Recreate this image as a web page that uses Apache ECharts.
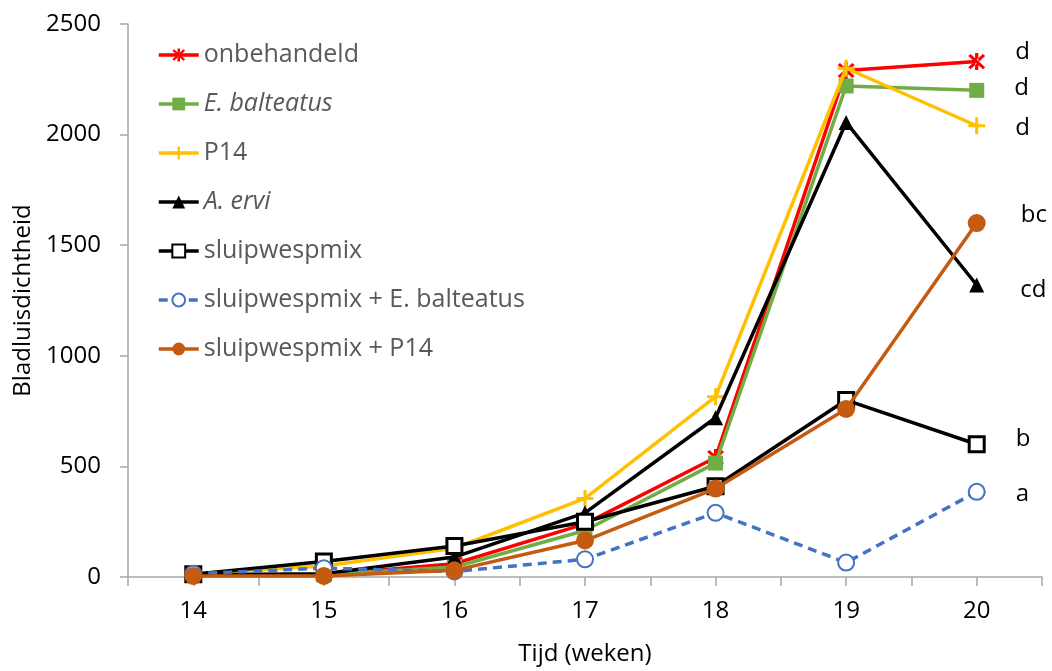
<!DOCTYPE html>
<html>
<head>
<meta charset="utf-8">
<script src="https://cdn.jsdelivr.net/npm/echarts@6/dist/echarts.min.js"></script>
<style>
html,body{margin:0;padding:0;background:#fff;}
#chart{width:1052px;height:671px;}
</style>
</head>
<body>
<div id="chart"></div>
<script>
var weeks = [14, 15, 16, 17, 18, 19, 20];
var seriesNames = ['onbehandeld', 'E. balteatus', 'P14', 'A. ervi', 'sluipwespmix', 'sluipwespmix + E. balteatus', 'sluipwespmix + P14'];
var onbehandeld = [10, 10, 60, 240, 540, 2290, 2330];
var eBalteatus  = [10, 10, 45, 210, 515, 2220, 2200];
var p14         = [15, 50, 130, 355, 815, 2300, 2040];
var aErvi       = [10, 15, 90, 290, 720, 2055, 1320];
var sluipwespmix = [12, 70, 140, 250, 410, 800, 600];
var mixEBalt    = [15, 40, 25, 80, 290, 65, 385];
var mixP14      = [5, 5, 30, 165, 400, 760, 1600];
var letters = ['d', 'd', 'd', 'cd', 'b', 'a', 'bc'];
var yTicks = [0, 500, 1000, 1500, 2000, 2500];

var allValues = [onbehandeld, eBalteatus, p14, aErvi, sluipwespmix, mixEBalt, mixP14];

var asterisk = 'path://M-1.7,-10 L1.7,-10 L1.7,10 L-1.7,10 Z M-8.9,-6.5 L-6.5,-8.9 L8.9,6.5 L6.5,8.9 Z M-8.9,6.5 L-6.5,8.9 L8.9,-6.5 L6.5,-8.9 Z';
var plus = 'path://M-1.6,-9 L1.6,-9 L1.6,-1.6 L9,-1.6 L9,1.6 L1.6,1.6 L1.6,9 L-1.6,9 L-1.6,1.6 L-9,1.6 L-9,-1.6 L-1.6,-1.6 Z';

var styles = [
  {symbol: asterisk, size: 17, item: {color: '#ff0000'}, line: {color: '#ff0000', width: 3.5}, off: [0, -9]},
  {symbol: 'rect', size: 15, item: {color: '#70ad47'}, line: {color: '#70ad47', width: 3.5}, off: [0, -2]},
  {symbol: plus, size: 17, item: {color: '#ffc000'}, line: {color: '#ffc000', width: 3.5}, off: [0, 2]},
  {symbol: 'triangle', size: 15, item: {color: '#000000'}, line: {color: '#000000', width: 3.5}, off: [6, 5]},
  {symbol: 'rect', size: 15, item: {color: '#ffffff', borderColor: '#000000', borderWidth: 3}, line: {color: '#000000', width: 3.5}, off: [0, -5]},
  {symbol: 'emptyCircle', size: 16, item: {color: '#4472c4', borderWidth: 3}, line: {color: '#4472c4', width: 3.5, type: [9, 6]}, off: [0, 2]},
  {symbol: 'circle', size: 18, item: {color: '#c55a11'}, line: {color: '#c55a11', width: 3.5}, off: [5, -8]}
];

var FONT = '"Open Sans", sans-serif';

var series = seriesNames.map(function (name, i) {
  var vals = allValues[i];
  var data = weeks.map(function (w, j) {
    if (j === weeks.length - 1) {
      return {
        value: [w, vals[j]],
        label: {
          show: true,
          position: 'right',
          distance: 30,
          offset: styles[i].off,
          formatter: letters[i],
          color: '#000',
          fontSize: 24,
          fontFamily: FONT
        }
      };
    }
    return [w, vals[j]];
  });
  return {
    name: name,
    type: 'line',
    data: data,
    symbol: styles[i].symbol,
    symbolSize: styles[i].size,
    showAllSymbol: true,
    itemStyle: styles[i].item,
    lineStyle: styles[i].line,
    emphasis: {disabled: true},
    animation: false,
    z: 2 + i
  };
});

var italicNames = {'E. balteatus': true, 'A. ervi': true};

var option = {
  backgroundColor: '#ffffff',
  animation: false,
  grid: {left: 128, right: 10, top: 24, bottom: 93, containLabel: false},
  legend: {
    orient: 'vertical',
    left: 152,
    top: 36,
    itemWidth: 40,
    itemHeight: 16,
    itemGap: 21,
    textStyle: {color: '#595959', fontSize: 25, fontFamily: FONT, lineHeight: 28},
    lineStyle: {width: 3.5},
    data: seriesNames.map(function (n) {
      return italicNames[n] ? {name: n, textStyle: {fontStyle: 'italic'}} : {name: n};
    })
  },
  xAxis: {
    type: 'value',
    min: 13.5,
    max: 20.5,
    interval: 0.5,
    name: 'Tijd (weken)',
    nameLocation: 'middle',
    nameGap: 65,
    nameTextStyle: {color: '#000', fontSize: 24, fontFamily: FONT},
    axisLine: {show: true, lineStyle: {color: '#a6a6a6', width: 1.5}},
    axisTick: {show: true, length: 9, lineStyle: {color: '#a6a6a6', width: 1.5}},
    splitLine: {show: false},
    axisLabel: {
      color: '#000', fontSize: 24, fontFamily: FONT, margin: 22,
      formatter: function (v) { return (weeks.indexOf(v) >= 0) ? String(v) : ''; }
    }
  },
  yAxis: {
    type: 'value',
    min: yTicks[0],
    max: yTicks[yTicks.length - 1],
    interval: 500,
    name: 'Bladluisdichtheid',
    nameLocation: 'middle',
    nameGap: 92,
    nameRotate: 90,
    nameTextStyle: {color: '#000', fontSize: 24, fontFamily: FONT},
    axisLine: {show: true, lineStyle: {color: '#a6a6a6', width: 1.5}},
    axisTick: {show: true, length: 8, lineStyle: {color: '#a6a6a6', width: 1.5}},
    splitLine: {show: false},
    axisLabel: {color: '#000', fontSize: 24, fontFamily: FONT, margin: 27,
      formatter: function (v) { return String(v); }}
  },
  series: series
};

var chart = echarts.init(document.getElementById('chart'), null, {renderer: 'canvas'});
chart.setOption(option);
</script>
</body>
</html>
